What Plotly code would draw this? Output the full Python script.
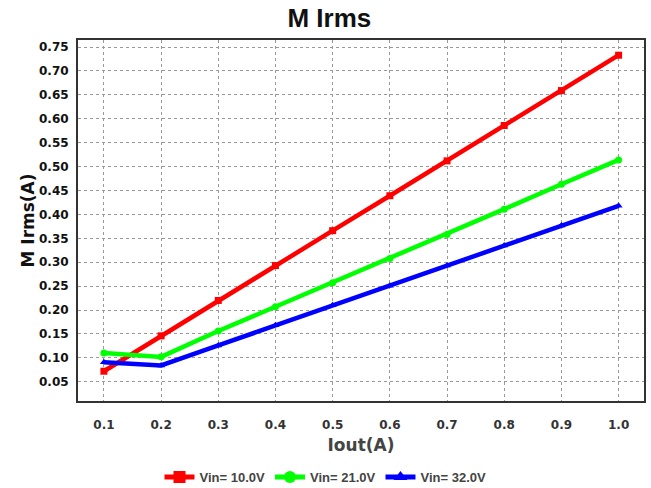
import plotly.graph_objects as go

iout = [0.1, 0.2, 0.3, 0.4, 0.5, 0.6, 0.7, 0.8, 0.9, 1.0]
vin10 = [0.072, 0.146, 0.220, 0.293, 0.366, 0.439, 0.512, 0.586, 0.659, 0.733]
vin21 = [0.110, 0.102, 0.156, 0.207, 0.257, 0.308, 0.358, 0.411, 0.463, 0.514]
vin32 = [0.091, 0.084, 0.126, 0.168, 0.210, 0.251, 0.293, 0.335, 0.377, 0.418]
names = ["Vin= 10.0V", "Vin= 21.0V", "Vin= 32.0V"]
colors = ["#ff0000", "#00ff00", "#0000ff"]
symbols = ["square", "circle", "triangle-up"]
xticks = [0.1, 0.2, 0.3, 0.4, 0.5, 0.6, 0.7, 0.8, 0.9, 1.0]
yticks = [0.05, 0.10, 0.15, 0.20, 0.25, 0.30, 0.35, 0.40, 0.45, 0.50, 0.55, 0.60, 0.65, 0.70, 0.75]

ARIAL = "Liberation Sans, Arial, sans-serif"
WIDE = "DejaVu Sans, sans-serif"

fig = go.Figure()
for ys, n, c, s in zip([vin10, vin21, vin32], names, colors, symbols):
    fig.add_trace(go.Scatter(
        x=iout, y=ys, name=f"<b>{n}</b>", mode="lines+markers",
        line=dict(color=c, width=4.5),
        marker=dict(color=c, symbol=s, size=7),
    ))

fig.update_layout(
    width=651, height=488,
    margin=dict(l=78, r=5, t=40, b=87),
    paper_bgcolor="white", plot_bgcolor="white",
    font=dict(family=ARIAL, color="#222"),
    title=dict(text="<b>M Irms</b>", x=0.506, xref="container", xanchor="center",
               y=1 - 18 / 488, yref="container", yanchor="middle",
               font=dict(size=26, color="#111", family=ARIAL)),
    showlegend=True,
    legend=dict(orientation="h", x=0.5, xref="container", xanchor="center",
                y=(488 - 477) / 488, yref="container", yanchor="middle",
                font=dict(size=13, color="#444", family=ARIAL),
                itemwidth=30, tracegroupgap=0, itemsizing="constant"),
)
fig.update_xaxes(
    range=[0.0547, 1.0444], tickvals=xticks, ticktext=[f"<b>{v:.1f}</b>" for v in xticks],
    tickfont=dict(size=12, color="#333", family=WIDE),
    showgrid=True, gridcolor="#999", griddash="dot", gridwidth=1,
    showline=True, linecolor="#333", linewidth=2, mirror=True,
    ticks="", zeroline=False, ticklabelstandoff=12,
    title=dict(text="<b>Iout(A)</b>", font=dict(size=17, color="#444", family=WIDE), standoff=8),
)
fig.update_yaxes(
    range=[0.0097, 0.7648], tickvals=yticks, ticktext=[f"<b>{v:.2f}</b>" for v in yticks],
    tickfont=dict(size=12, color="#111", family=WIDE),
    showgrid=True, gridcolor="#999", griddash="dot", gridwidth=1,
    showline=True, linecolor="#333", linewidth=2, mirror=True,
    ticks="", zeroline=False, ticklabelstandoff=5,
    title=dict(text="<b>M Irms(A)</b>", font=dict(size=17, color="#111", family=WIDE), standoff=0),
)

fig.write_html("out.html")
